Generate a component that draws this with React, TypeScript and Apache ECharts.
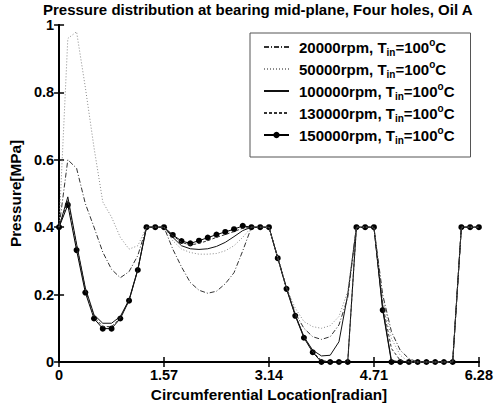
import React, { useEffect, useRef } from "react";
import * as echarts from "echarts";

// Circumferential location [radian] of each sample (49 samples over 0..6.28)
const angles = [
  0, 0.131, 0.262, 0.393, 0.523, 0.654, 0.785, 0.916, 1.047, 1.178, 1.308, 1.439, 1.57,
  1.701, 1.832, 1.963, 2.093, 2.224, 2.355, 2.486, 2.617, 2.748, 2.878, 3.009, 3.14,
  3.271, 3.402, 3.533, 3.663, 3.794, 3.925, 4.056, 4.187, 4.318, 4.448, 4.579, 4.71,
  4.841, 4.972, 5.103, 5.233, 5.364, 5.495, 5.626, 5.757, 5.888, 6.018, 6.149, 6.28,
];

const p20000 = [
  0.4, 0.6, 0.575, 0.47, 0.4, 0.326, 0.275, 0.25, 0.268, 0.316, 0.4, 0.4, 0.4,
  0.335, 0.282, 0.236, 0.213, 0.204, 0.21, 0.232, 0.265, 0.33, 0.4, 0.4, 0.4,
  0.31, 0.22, 0.145, 0.1, 0.075, 0.067, 0.075, 0.11, 0.19, 0.4, 0.4, 0.4,
  0.2, 0.09, 0.035, 0.01, 0, 0, 0, 0, 0, 0.4, 0.4, 0.4,
];
const p50000 = [
  0.4, 0.96, 0.98, 0.815, 0.636, 0.475, 0.43, 0.37, 0.335, 0.345, 0.4, 0.4, 0.4,
  0.36, 0.335, 0.325, 0.32, 0.32, 0.322, 0.33, 0.345, 0.37, 0.4, 0.4, 0.4,
  0.31, 0.22, 0.16, 0.12, 0.105, 0.1, 0.108, 0.135, 0.21, 0.4, 0.4, 0.4,
  0.19, 0.07, 0.02, 0, 0, 0, 0, 0, 0, 0.4, 0.4, 0.4,
];
const p100000 = [
  0.4, 0.49, 0.35, 0.22, 0.14, 0.115, 0.115, 0.135, 0.185, 0.275, 0.4, 0.4, 0.4,
  0.37, 0.345, 0.336, 0.334, 0.336, 0.343, 0.355, 0.372, 0.39, 0.4, 0.4, 0.4,
  0.31, 0.22, 0.14, 0.075, 0.035, 0.018, 0.02, 0.06, 0.2, 0.4, 0.4, 0.4,
  0.16, 0.005, 0, 0, 0, 0, 0, 0, 0, 0.4, 0.4, 0.4,
];
const p130000 = [
  0.4, 0.48, 0.345, 0.215, 0.135, 0.105, 0.105, 0.13, 0.183, 0.274, 0.4, 0.4, 0.4,
  0.375, 0.355, 0.347, 0.352, 0.36, 0.37, 0.378, 0.387, 0.397, 0.4, 0.4, 0.4,
  0.31, 0.22, 0.14, 0.075, 0.03, 0.005, 0, 0, 0, 0.4, 0.4, 0.4,
  0.17, 0.04, 0.005, 0, 0, 0, 0, 0, 0, 0.4, 0.4, 0.4,
];
const p150000 = [
  0.4, 0.466, 0.332, 0.206, 0.129, 0.099, 0.099, 0.129, 0.182, 0.273, 0.4, 0.4, 0.4,
  0.377, 0.359, 0.352, 0.36, 0.369, 0.378, 0.386, 0.394, 0.404, 0.4, 0.4, 0.4,
  0.308, 0.217, 0.137, 0.072, 0.029, 0, 0, 0, 0, 0.4, 0.4, 0.4,
  0.154, 0, 0, 0, 0, 0, 0, 0, 0, 0.4, 0.4, 0.4,
];

const seriesNames = ["20000rpm", "50000rpm", "100000rpm", "130000rpm", "150000rpm"];
const seriesValues = [p20000, p50000, p100000, p130000, p150000];
const xTickLabels = ["0", "1.57", "3.14", "4.71", "6.28"];
const yTickLabels = ["0", "0.2", "0.4", "0.6", "0.8", "1"];

const titleText = "Pressure distribution at bearing mid-plane, Four holes, Oil A";
const xName = "Circumferential Location[radian]";
const yName = "Pressure[MPa]";

export default function App() {
  const ref = useRef<HTMLDivElement>(null);
  useEffect(() => {
    const chart = echarts.init(ref.current!, null, { renderer: "svg" });
    const font = "'Liberation Sans', Arial, Helvetica, sans-serif";
    const lineStyles: any[] = [
      { color: "#333", type: [5, 2, 1, 2], width: 1 },
      { color: "#8a8a8a", type: [1, 2], width: 1 },
      { color: "#111", type: "solid", width: 1 },
      { color: "#333", type: [3, 2], width: 1 },
      { color: "#000", type: "solid", width: 1 },
    ];
    const axisLine = { show: true, lineStyle: { color: "#000", width: 2 } };
    const tick = { show: true, inside: true, length: 5, lineStyle: { color: "#000", width: 1.5 } };
    const labelStyle = { fontFamily: font, fontWeight: "bold" as const, fontSize: 14.5, color: "#000" };
    const nameStyle = { fontFamily: font, fontWeight: "bold" as const, fontSize: 15.3, color: "#000" };

    const series = seriesNames.map((name, k) => ({
      name,
      type: "line",
      data: seriesValues[k].map((v, i) => [angles[i], v]),
      symbol: k === 4 ? "circle" : "none",
      showSymbol: k === 4,
      symbolSize: 6,
      clip: false,
      lineStyle: lineStyles[k],
      itemStyle: { color: lineStyles[k].color },
      z: 10 - k,
    }));

    const legendData = seriesNames.map((name, k) =>
      k === 4
        ? { name }
        : { name, itemStyle: { opacity: 0, color: "rgba(0,0,0,0)", borderWidth: 0 } }
    );

    chart.setOption({
      animation: false,
      backgroundColor: "#fff",
      title: {
        text: titleText,
        left: 43,
        top: 2,
        padding: 0,
        textStyle: { fontFamily: font, fontWeight: "bold", fontSize: 15, lineHeight: 14, color: "#000" },
      },
      grid: { left: 57, right: 16, top: 25, bottom: 47 },
      xAxis: [
        {
          type: "value",
          position: "bottom",
          min: 0,
          max: 6.28,
          interval: 1.57,
          axisLine,
          axisTick: tick,
          splitLine: { show: false },
          axisLabel: {
            ...labelStyle,
            margin: 5,
            formatter: (v: number) => xTickLabels[Math.round(v / 1.57)] ?? "",
          },
          name: xName,
          nameLocation: "middle",
          nameGap: 25,
          nameTextStyle: nameStyle,
        },
        {
          type: "value",
          position: "top",
          min: 0,
          max: 6.28,
          interval: 1.57,
          axisLine,
          axisTick: tick,
          splitLine: { show: false },
          axisLabel: { show: false },
        },
      ],
      yAxis: [
        {
          type: "value",
          position: "left",
          min: 0,
          max: 1,
          interval: 0.2,
          axisLine,
          axisTick: tick,
          splitLine: { show: false },
          axisLabel: {
            ...labelStyle,
            lineHeight: 12,
            margin: 5,
            formatter: (v: number) => yTickLabels[Math.round(v / 0.2)] ?? "",
          },
          name: yName,
          nameLocation: "middle",
          nameGap: 34,
          nameRotate: 90,
          nameTextStyle: nameStyle,
        },
        {
          type: "value",
          position: "right",
          min: 0,
          max: 1,
          interval: 0.2,
          axisLine,
          axisTick: tick,
          splitLine: { show: false },
          axisLabel: { show: false },
        },
      ],
      legend: {
        orient: "vertical",
        left: 250,
        top: 33,
        backgroundColor: "#fff",
        borderColor: "#555",
        borderWidth: 1,
        borderRadius: 0,
        padding: [4, 16, 12, 13],
        itemGap: 2,
        itemWidth: 25,
        itemHeight: 8,
        data: legendData,
        formatter: (name: string) => `{a|${name}, T}{s|in}{b|=100}{o|o}{b|C}`,
        textStyle: {
          color: "#000",
          rich: {
            a: { fontFamily: font, fontWeight: "bold", fontSize: 15, lineHeight: 20, padding: [0, 0, 0, 5], color: "#000" },
            b: { fontFamily: font, fontWeight: "bold", fontSize: 15, lineHeight: 20, color: "#000" },
            s: { fontFamily: font, fontWeight: "bold", fontSize: 10, verticalAlign: "bottom", lineHeight: 10, color: "#000" },
            o: { fontFamily: font, fontWeight: "bold", fontSize: 10, verticalAlign: "top", lineHeight: 10, color: "#000" },
          },
        },
      },
      series,
    });
    return () => chart.dispose();
  }, []);
  return <div ref={ref} style={{ position: "fixed", left: 0, top: 0, width: 496, height: 409 }} />;
}
